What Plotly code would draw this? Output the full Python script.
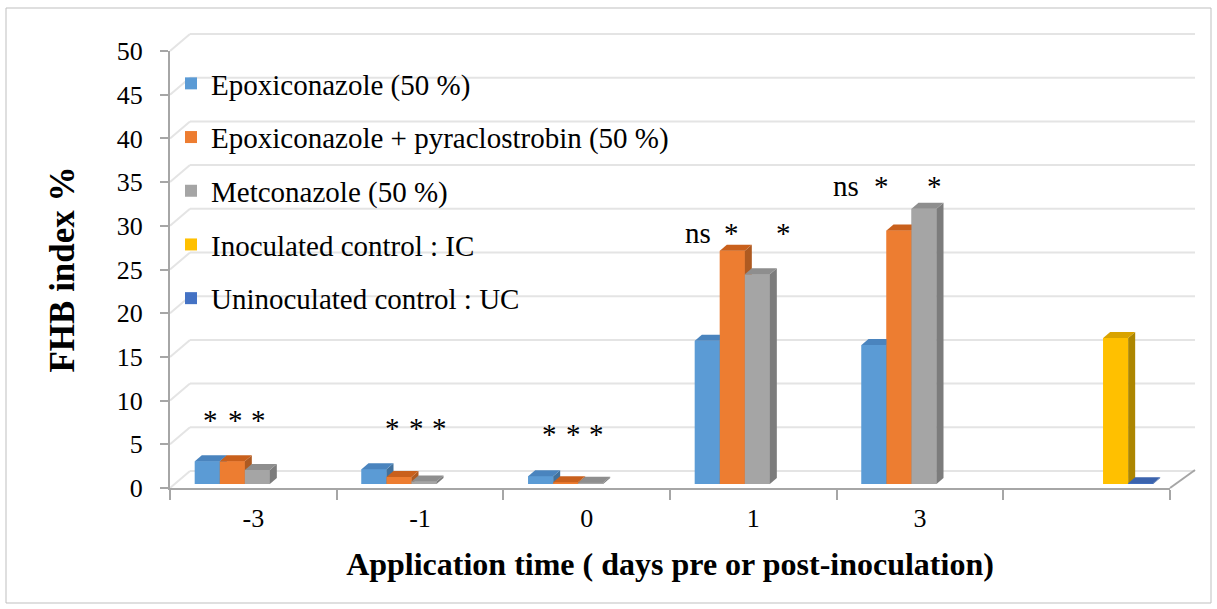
import plotly.graph_objects as go

# ---------------- data ----------------
categories = ["-3", "-1", "0", "1", "3", ""]
series_names = [
    "Epoxiconazole (50 %)",
    "Epoxiconazole + pyraclostrobin (50 %)",
    "Metconazole (50 %)",
    "Inoculated control : IC",
    "Uninoculated control : UC",
]
epoxiconazole = [2.6, 1.7, 0.9, 16.4, 15.9, None]
epoxi_pyraclostrobin = [2.6, 0.8, 0.2, 26.7, 29.0, None]
metconazole = [1.6, 0.3, 0.15, 24.0, 31.5, None]
inoculated_control = [None, None, None, None, None, 16.7]
uninoculated_control = [None, None, None, None, None, 0.1]
series_values = [epoxiconazole, epoxi_pyraclostrobin, metconazole,
                 inoculated_control, uninoculated_control]
significance = [
    ["*", "*", "*"],
    ["*", "*", "*"],
    ["*", "*", "*"],
    ["ns", "*", "*"],
    ["ns", "*", "*"],
]
y_ticks = [0, 5, 10, 15, 20, 25, 30, 35, 40, 45, 50]

# ---------------- styles ----------------
front_colors = ["#5B9BD5", "#ED7D31", "#A5A5A5", "#FFC000", "#4472C4"]
top_colors = ["#4A84BE", "#C9601C", "#8E8E8E", "#D9A300", "#3B63AD"]
side_colors = ["#41719C", "#AE5A21", "#7C7C7C", "#AD8600", "#2F5597"]
FONT = "Liberation Serif, Times New Roman, serif"

W, H = 1217, 609
ML, MR, MT, MB = 170, 20, 33, 121
PW, PH = W - ML - MR, H - MT - MB
AX_RIGHT = 1170          # px end of the front x axis
AX_TOP = 51              # px of value 50 on the front y axis
BASE = H - MB            # px of value 0
DEPTH_X, DEPTH_Y = 20, 17   # back wall offset in px


def px(x):
    return (x - ML) / PW


def py(y):
    return (BASE - y) / PH


def ypx(v):
    return BASE - v * (BASE - AX_TOP) / 50.0


n_cat = len(categories)
n_ser = len(series_values)
slot_w = 0.15
unit_px = (AX_RIGHT - ML) / n_cat
val_px = (BASE - AX_TOP) / 50.0
dx = 7 / unit_px            # bar depth (projected)
dy = 6 / val_px
ox = 4 / unit_px            # bars stand slightly behind the front edge of the floor
oy = 4 / val_px

fig = go.Figure()

# legend/front bars
for s in range(n_ser):
    xs = [i + (s - (n_ser - 1) / 2) * slot_w + ox for i in range(n_cat)]
    fig.add_trace(go.Bar(
        x=xs, y=series_values[s], base=oy, width=slot_w, name=series_names[s],
        marker=dict(color=front_colors[s], line=dict(width=0)),
        legendgroup=f"g{s}", hoverinfo="name+y",
    ))

# 3D faces drawn in depth order
for i in range(n_cat):
    for s in range(n_ser):
        v = series_values[s][i]
        if v is None:
            continue
        xc = i + (s - (n_ser - 1) / 2) * slot_w + ox
        xl, xr = xc - slot_w / 2, xc + slot_w / 2
        b, t = oy, oy + v
        polys = [
            ([xl, xr, xr, xl, xl], [b, b, t, t, b], front_colors[s]),
            ([xr, xr, xr + dx, xr + dx, xr], [b, t, t + dy, b + dy, b], side_colors[s]),
            ([xl, xr, xr + dx, xl + dx, xl], [t, t, t + dy, t + dy, t], top_colors[s]),
        ]
        for px_, py_, c in polys:
            fig.add_trace(go.Scatter(
                x=px_, y=py_, mode="lines", fill="toself", fillcolor=c,
                line=dict(width=0, color=c), showlegend=False, hoverinfo="skip",
            ))

# significance labels
label_y = [7.8, 6.9, 6.15, 29.2, 34.5]
label_shift = [[7, 7, 5], [22, 21, 19], [13, 12, 10], [-5, 3, 30], [-24, -14, 14]]
annotations = []
for i, labels in enumerate(significance):
    for s, t in enumerate(labels):
        xc = i + (s - (n_ser - 1) / 2) * slot_w
        annotations.append(dict(
            x=xc, y=label_y[i], xref="x", yref="y", text=t, showarrow=False,
            xshift=label_shift[i][s], font=dict(family=FONT, size=29, color="black"),
        ))

# back wall gridlines and 3D edges
shapes = []
for v in y_ticks:
    y0 = ypx(v)
    col = "#E4E4E4"
    shapes.append(dict(type="line", xref="paper", yref="paper", layer="below",
                       x0=px(ML + DEPTH_X), x1=px(AX_RIGHT + DEPTH_X + 5),
                       y0=py(y0 - DEPTH_Y), y1=py(y0 - DEPTH_Y),
                       line=dict(color=col, width=2)))
    shapes.append(dict(type="line", xref="paper", yref="paper", layer="below",
                       x0=px(ML), x1=px(ML + DEPTH_X),
                       y0=py(y0), y1=py(y0 - DEPTH_Y),
                       line=dict(color=col, width=2)))
# floor right edge
shapes.append(dict(type="line", xref="paper", yref="paper", layer="above",
                   x0=px(AX_RIGHT), x1=px(AX_RIGHT + DEPTH_X + 5),
                   y0=py(BASE), y1=py(BASE - DEPTH_Y - 1),
                   line=dict(color="#A6A6A6", width=2)))
# chart border
shapes.append(dict(type="rect", xref="paper", yref="paper", layer="below",
                   x0=px(6), x1=px(1211), y0=py(8), y1=py(603),
                   line=dict(color="#BFBFBF", width=1)))

fig.update_layout(
    width=W, height=H,
    margin=dict(l=ML, r=MR, t=MT, b=MB, autoexpand=False),
    paper_bgcolor="white", plot_bgcolor="rgba(0,0,0,0)",
    barmode="overlay", showlegend=True,
    font=dict(family=FONT, color="black"),
    legend=dict(x=px(171), y=py(58), xanchor="left", yanchor="top",
                font=dict(family=FONT, size=29, color="black"),
                bgcolor="rgba(0,0,0,0)", tracegroupgap=13,
                itemwidth=30),
    xaxis=dict(
        domain=[0, px(AX_RIGHT)], range=[-0.5, n_cat - 0.5], automargin=False,
        tickmode="array", tickvals=list(range(n_cat)), ticktext=categories,
        ticks="", showgrid=False, zeroline=False,
        showline=True, linecolor="#A6A6A6", linewidth=2,
        tickfont=dict(family=FONT, size=26, color="black"),
        ticklabelstandoff=6,
        minor=dict(tickmode="array", tickvals=[k - 0.5 for k in range(n_cat + 1)],
                   ticks="outside", ticklen=10, tickcolor="#A6A6A6", tickwidth=2,
                   showgrid=False),
        title=dict(text="<b>Application time ( days pre or post-inoculation)</b>",
                   font=dict(family=FONT, size=32, color="black"), standoff=20),
        fixedrange=True,
    ),
    yaxis=dict(
        domain=[0, py(AX_TOP)], range=[0, 50], automargin=False,
        tickmode="array", tickvals=y_ticks,
        ticks="outside", ticklen=8, tickcolor="#A6A6A6", tickwidth=2,
        showgrid=False, zeroline=False,
        showline=True, linecolor="#A6A6A6", linewidth=2,
        tickfont=dict(family=FONT, size=26, color="black"),
        ticklabelstandoff=12,
        title=dict(text="<b>FHB index %</b>",
                   font=dict(family=FONT, size=35, color="black"), standoff=32),
        fixedrange=True,
    ),
    annotations=annotations,
    shapes=shapes,
)

fig.write_html("out.html", config={"displayModeBar": False},
               post_script="document.body.style.margin='0';")
